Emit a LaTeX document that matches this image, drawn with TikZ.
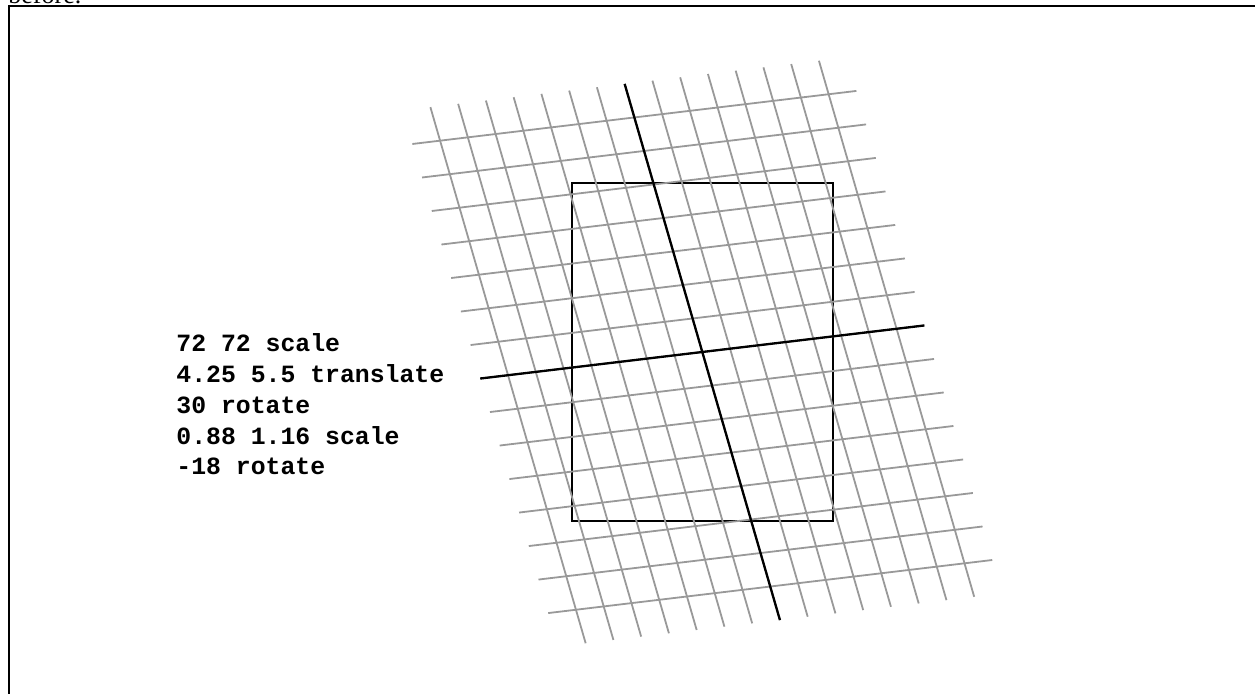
\documentclass[tikz,border=0pt]{standalone}
\usepackage{fontspec}
\setmainfont{Liberation Serif}
\newfontfamily\codefont{Liberation Mono}
\begin{document}
\begin{tikzpicture}[x=0.5pt,y=-0.5pt,
  gridline/.style={draw=black!40, line width=0.9pt},
  axisline/.style={draw=black, line width=1.15pt},
  pagebox/.style={draw=black, line width=1.05pt},
  framebox/.style={draw=black, line width=1.3pt},
  codetext/.style={font=\codefont\bfseries\fontsize{12.4}{15.4}\selectfont, align=left, inner sep=0pt}]
\useasboundingbox (0,0) rectangle (1255,694);
% outer frame (continues beyond the page)
\draw[framebox] (9,760) -- (9,6) -- (1300,6);
\node[anchor=base west, inner sep=0pt, font=\fontsize{13}{15}\selectfont] (before) at (8,4) {before.};
\begin{scope}[shift={(702.3,352)}]
 \begin{scope}[x=15.35pt, y=15.35pt]
  % the page
  \draw[pagebox] (-4.25,-5.5) rectangle (4.25,5.5);
  \begin{scope}[rotate=30, xscale=0.88, yscale=1.16, rotate=-18]
   \foreach \i in {-7,...,7} {
     \draw[gridline] (\i,-8) -- (\i,8);
     \draw[gridline] (-8,\i) -- (8,\i);
   }
   \coordinate (xa) at (-8,0);
   \coordinate (xb) at (8,0);
   \coordinate (ya) at (0,-8);
   \coordinate (yb) at (0,8);
   \draw[axisline] (xa) -- (xb);
   \draw[axisline] (ya) -- (yb);
  \end{scope}
 \end{scope}
\end{scope}
\node[codetext, anchor=base west] (code) at (176,474.9)
  {72 72 scale\\4.25 5.5 translate\\30 rotate\\0.88 1.16 scale\\-18 rotate};
\end{tikzpicture}
\end{document}
